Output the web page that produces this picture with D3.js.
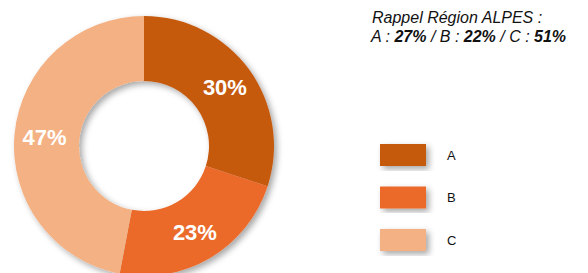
<!DOCTYPE html>
<html><head><meta charset="utf-8">
<script src="https://cdn.jsdelivr.net/npm/d3@7"></script>
<style>body{margin:0;background:#fff}svg{display:block}</style>
</head><body>
<script>
const categories = ["A", "B", "C"];
const values = [30, 23, 47];
const colors = ["#C55A11", "#EB6B2B", "#F4B183"];
const recallTitle = "Rappel Région ALPES :";
const recallCats = ["A", "B", "C"];
const recallValues = [27, 22, 51];

const W = 588, H = 273;
const svg = d3.select("body").append("svg").attr("width", W).attr("height", H);
const defs = svg.append("defs");
const f = defs.append("filter").attr("id", "sh").attr("x", "-20%").attr("y", "-20%").attr("width", "140%").attr("height", "140%");
f.append("feDropShadow").attr("dx", 3).attr("dy", 3).attr("stdDeviation", 3).attr("flood-color", "#000").attr("flood-opacity", 0.35);

const cx = 144, cy = 146, rOuter = 130, rInner = 65;
const pie = d3.pie().sort(null).value(d => d)(values);
const arc = d3.arc().innerRadius(rInner).outerRadius(rOuter);
const labelArc = d3.arc().innerRadius(100).outerRadius(100);
const g = svg.append("g").attr("transform", `translate(${cx},${cy})`);
g.append("g").attr("filter", "url(#sh)").selectAll("path").data(pie).join("path")
  .attr("d", arc).attr("fill", (d, i) => colors[i]);
g.selectAll("text").data(pie).join("text")
  .attr("transform", d => `translate(${labelArc.centroid(d)})`)
  .attr("text-anchor", "middle").attr("dy", "0.36em")
  .attr("font-family", "Liberation Sans, Arial, sans-serif").attr("font-weight", "bold")
  .attr("font-size", 22).attr("fill", "#fff")
  .text(d => d.data + "%");

// recall text
const tf = "Liberation Sans, Arial, sans-serif";
svg.append("text").attr("x", 372).attr("y", 23).attr("font-family", tf).attr("font-style", "italic")
  .attr("font-size", 16).attr("fill", "#111").text(recallTitle);
const t2 = svg.append("text").attr("x", 371).attr("y", 42).attr("font-family", tf).attr("font-style", "italic")
  .attr("font-size", 16).attr("fill", "#111");
recallCats.forEach((c, i) => {
  t2.append("tspan").text((i > 0 ? " / " : "") + c + " : ");
  t2.append("tspan").attr("font-weight", "bold").text(recallValues[i] + "%");
});

// legend
const ly = d3.scalePoint().domain(categories).range([155, 240]);
const lg = svg.append("g");
categories.forEach((c, i) => {
  lg.append("rect").attr("x", 380).attr("y", ly(c) - 11).attr("width", 46).attr("height", 22)
    .attr("fill", colors[i]).attr("filter", "url(#sh)");
  lg.append("text").attr("x", 447).attr("y", ly(c)).attr("dy", "0.36em")
    .attr("font-family", tf).attr("font-size", 13).attr("fill", "#111").text(c);
});
</script>
</body></html>
